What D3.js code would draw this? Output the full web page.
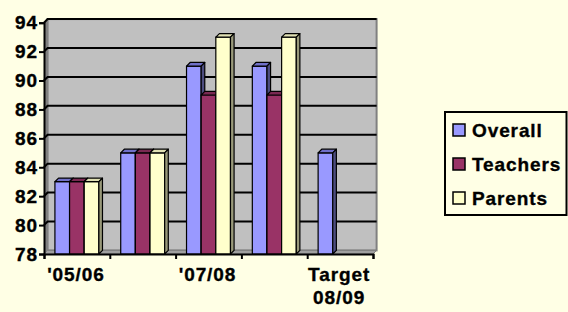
<!DOCTYPE html>
<html><head><meta charset="utf-8">
<script src="https://cdn.jsdelivr.net/npm/d3@7"></script>
<style>
html,body{margin:0;padding:0;background:#FFFFE5;}
svg{display:block;}
text{font-family:"Liberation Sans",Arial,sans-serif;font-weight:bold;fill:#000;letter-spacing:0.9px;stroke:#000;stroke-width:0.35px;}
</style></head><body>
<svg id="c" width="568" height="312"></svg>
<script>
const categories = ["'05/06", "'06/07", "'07/08", "'08/09", "Target 08/09"];
const tickLabels = [["'05/06"], [], ["'07/08"], [], ["Target", "08/09"]];
const seriesNames = ["Overall", "Teachers", "Parents"];
const overall  = [83, 85, 91, 91, 85];
const teachers = [83, 85, 89, 89, null];
const parents  = [83, 85, 93, 93, null];
const yTicks = [78, 80, 82, 84, 86, 88, 90, 92, 94];

const seriesValues = [overall, teachers, parents];
const fronts = ["#9999FF", "#993366", "#FFFFCC"];
const tops   = ["#7070C8", "#7A2952", "#E0E0B3"];
const sides  = ["#4D4D80", "#4D1A33", "#99997A"];

const svg = d3.select("#c");
const L = 44, R = 373, B = 254, T = 22.7, D = 3.6;
const y = d3.scaleLinear().domain([78, 94]).range([B, T]);
const x = d3.scaleBand().domain(d3.range(categories.length)).range([L, R]).paddingInner(0).paddingOuter(0);
const bw = x.bandwidth();
const xs = d3.scaleBand().domain(d3.range(seriesNames.length)).range([bw * 0.166, bw * 0.834]);

// side wall
svg.append("path").attr("d", `M${L},${T}L${L+D},${T-D}L${L+D},${B-D}L${L},${B}Z`).attr("fill", "#808080");
// back wall
svg.append("rect").attr("x", L + D).attr("y", T - D).attr("width", R - L).attr("height", B - T)
  .attr("fill", "#C0C0C0").attr("stroke", "#808080").attr("stroke-width", 2);
// floor
svg.append("path").attr("d", `M${L},${B}L${L+D},${B-D}L${R+D},${B-D}L${R},${B}Z`).attr("fill", "#A0A0A0").attr("stroke","#808080").attr("stroke-width",1);
// gridlines
svg.append("g").selectAll("path").data(yTicks.slice(1)).join("path")
  .attr("d", v => `M${L},${y(v)}L${L+D},${y(v)-D}L${R+D},${y(v)-D}`)
  .attr("fill", "none").attr("stroke", "#000").attr("stroke-width", 2);

// bars
const g = svg.append("g");
categories.forEach((c, i) => {
  seriesValues.forEach((vals, s) => {
    const v = vals[i];
    if (v == null) return;
    const x0 = x(i) + xs(s), x1 = x0 + xs.bandwidth();
    const yt = y(v), y0 = B;
    const bar = g.append("g").attr("stroke", "#000").attr("stroke-width", 1.2).attr("stroke-linejoin", "round");
    bar.append("rect").attr("x", x0).attr("y", yt).attr("width", x1 - x0).attr("height", y0 - yt).attr("fill", fronts[s]);
    bar.append("path").attr("d", `M${x0},${yt}L${x0+D},${yt-D}L${x1+D},${yt-D}L${x1},${yt}Z`).attr("fill", tops[s]);
    bar.append("path").attr("d", `M${x1},${yt}L${x1+D},${yt-D}L${x1+D},${y0-D}L${x1},${y0}Z`).attr("fill", sides[s]);
  });
});

// y axis
const yAxis = svg.append("g").attr("transform", `translate(${L},0)`)
  .call(d3.axisLeft(y).tickValues(yTicks).tickSize(5).tickPadding(1).tickFormat(d3.format("d")));
yAxis.select(".domain").attr("stroke", "#000").attr("stroke-width", 2);
yAxis.selectAll(".tick line").attr("stroke", "#000").attr("stroke-width", 2);
yAxis.selectAll("text").attr("font-size", 19).attr("font-family", null).attr("fill", null);

// x axis (boundary ticks)
const xb = d3.scaleLinear().domain([0, categories.length]).range([L, R]);
const xAxis = svg.append("g").attr("transform", `translate(0,${B})`)
  .call(d3.axisBottom(xb).ticks(categories.length).tickSize(5).tickFormat(""));
xAxis.select(".domain").attr("stroke", "#000").attr("stroke-width", 2);
xAxis.selectAll(".tick line").attr("stroke", "#000").attr("stroke-width", 2);

// category labels
const lab = svg.append("g").selectAll("text").data(tickLabels).join("text")
  .attr("x", (d, i) => x(i) + bw / 2 - 1).attr("y", 281)
  .attr("text-anchor", "middle").attr("font-size", 19);
lab.selectAll("tspan").data(d => d).join("tspan")
  .attr("x", function() { return this.parentNode.getAttribute("x"); })
  .attr("dy", (d, j) => j === 0 ? 0 : 23).text(d => d);

// legend
const lg = svg.append("g");
lg.append("rect").attr("x", 445).attr("y", 112).attr("width", 121.5).attr("height", 103)
  .attr("fill", "none").attr("stroke", "#000").attr("stroke-width", 2);
seriesNames.forEach((n, s) => {
  const cy = 130 + s * 34;
  lg.append("rect").attr("x", 453).attr("y", cy - 6).attr("width", 12).attr("height", 12)
    .attr("fill", fronts[s]).attr("stroke", "#000").attr("stroke-width", 1.5);
  lg.append("text").attr("x", 472).attr("y", cy + 7).attr("font-size", 19).text(n);
});
</script></body></html>
